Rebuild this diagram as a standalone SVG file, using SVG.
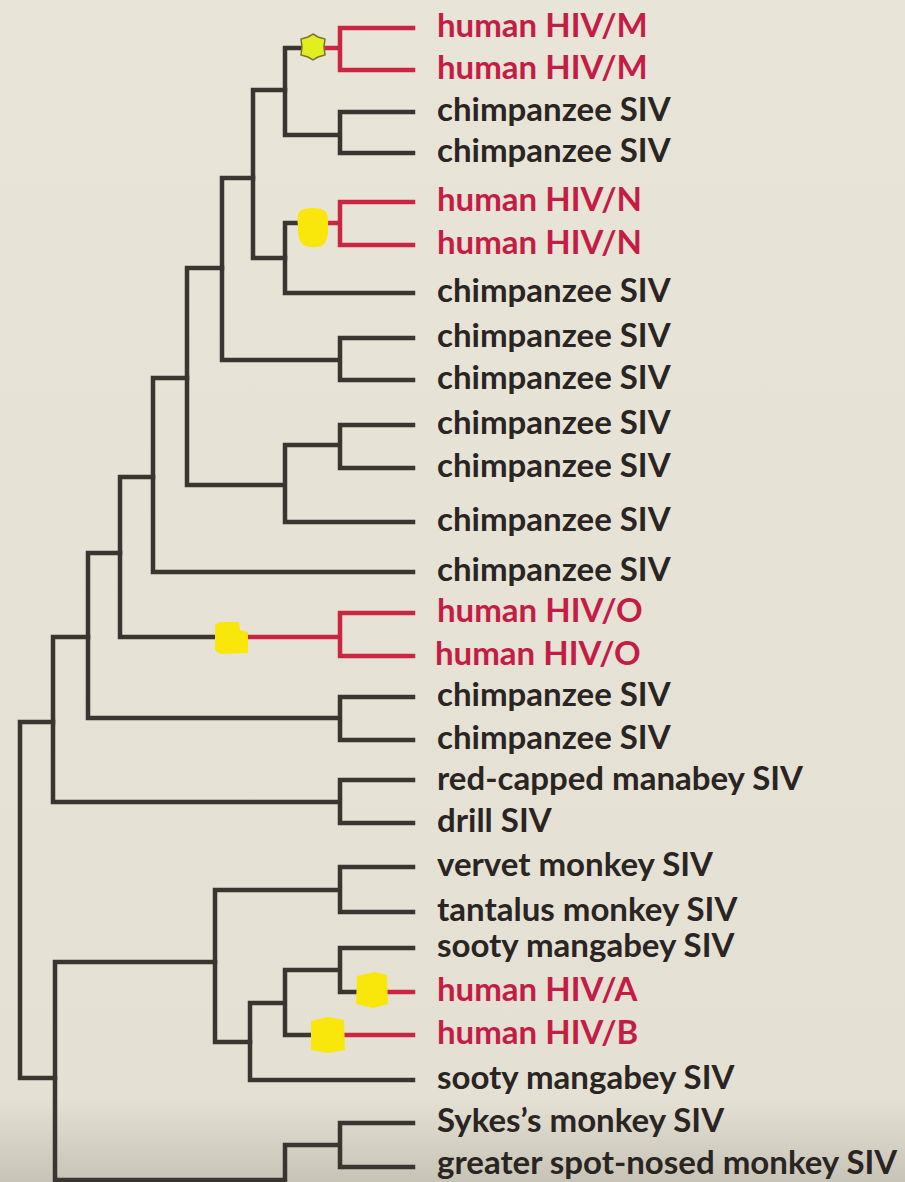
<svg xmlns="http://www.w3.org/2000/svg" width="905" height="1182" viewBox="0 0 905 1182">
<defs>
<linearGradient id="bg" x1="0" y1="0" x2="0" y2="1">
<stop offset="0" stop-color="#e9e4d8"/>
<stop offset="0.93" stop-color="#e5e0d4"/>
<stop offset="1" stop-color="#c8c3b7"/>
</linearGradient>
<style>
.t{font-family:Lato,"Open Sans","Liberation Sans",sans-serif;font-weight:700;font-size:33px;fill:#2a2522}
.r{fill:#c41d45}
.k{fill:none;stroke:#3a3531;stroke-width:4.5;stroke-linejoin:miter;stroke-linecap:square}
.red{fill:none;stroke:#c92644;stroke-width:4.5;stroke-linejoin:miter;stroke-linecap:square}
.mk{fill:#f9e60a;stroke:none}
</style>
</defs>
<rect width="905" height="1182" fill="url(#bg)"/>
<g id="connectors">
<path class="k" d="M300,48 H285 V135 H340 M413,112 H340 V153 H413"/>
<path class="k" d="M285,90 H253 V258 H285"/>
<path class="k" d="M297,223 H285 V293 H413"/>
<path class="k" d="M253,178 H222 V360 H340 M413,338 H340 V380 H413"/>
<path class="k" d="M222,268 H187 V485 H285 M285,445 V522 H413 M285,445 H340 M413,425 H340 V468 H413"/>
<path class="k" d="M187,378 H153 V572 H413"/>
<path class="k" d="M153,477 H120 V637 H218"/>
<path class="k" d="M120,553 H88 V718 H340 M413,697 H340 V740 H413"/>
<path class="k" d="M88,637 H53 V802 H340 M413,780 H340 V823 H413"/>
<path class="k" d="M53,722 H20 V1078 H55"/>
<path class="k" d="M215,962 H55 V1180 H285 V1145 H340 M413,1123 H340 V1167 H413"/>
<path class="k" d="M413,867 H340 V912 H413 M340,890 H215 V1042 H250"/>
<path class="k" d="M250,1003 V1080 H413 M250,1003 H285 M340,970 H285 V1035 H312 M413,948 H340 V992 H358"/>
<path class="red" d="M413,28 H340 V70 H413 M326,48 H340"/>
<path class="red" d="M413,202 H340 V245 H413 M326,223 H340"/>
<path class="red" d="M413,613 H340 V656 H413 M246,637 H340"/>
<path class="red" d="M386,992 H413"/>
<path class="red" d="M343,1035 H413"/>
</g>
<g id="markers">
<polygon id="marker-M" points="313,34 318,37 325,39 324,47 325,55 318,57 313,60 308,57 301,55 302,47 301,39 308,37" fill="#e2ee1e" stroke="#77752c" stroke-width="1.5"/>
<path id="marker-N" class="mk" d="M301,210 Q312,206 324,210 Q329,214 328,226 Q329,240 322,246 Q312,249 303,245 Q297,238 298,226 Q296,214 301,210 Z"/>
<polygon id="marker-O" class="mk" points="215,625 220,622 239,622 240,630 248,632 248,653 220,654 215,650"/>
<polygon id="marker-A" class="mk" points="357,976 375,972 387,975 388,1004 373,1008 356,1004"/>
<polygon id="marker-B" class="mk" points="311,1021 328,1017 344,1020 345,1050 328,1053 311,1050"/>
</g>
<g id="leaf-01"><text class="t r" x="437" y="37">human HIV/M</text></g>
<g id="leaf-02"><text class="t r" x="437" y="79">human HIV/M</text></g>
<g id="leaf-03"><text class="t" x="437" y="121">chimpanzee SIV</text></g>
<g id="leaf-04"><text class="t" x="437" y="162">chimpanzee SIV</text></g>
<g id="leaf-05"><text class="t r" x="437" y="211">human HIV/N</text></g>
<g id="leaf-06"><text class="t r" x="437" y="254">human HIV/N</text></g>
<g id="leaf-07"><text class="t" x="437" y="302">chimpanzee SIV</text></g>
<g id="leaf-08"><text class="t" x="437" y="347">chimpanzee SIV</text></g>
<g id="leaf-09"><text class="t" x="437" y="389">chimpanzee SIV</text></g>
<g id="leaf-10"><text class="t" x="437" y="434">chimpanzee SIV</text></g>
<g id="leaf-11"><text class="t" x="437" y="477">chimpanzee SIV</text></g>
<g id="leaf-12"><text class="t" x="437" y="531">chimpanzee SIV</text></g>
<g id="leaf-13"><text class="t" x="437" y="581">chimpanzee SIV</text></g>
<g id="leaf-14"><text class="t r" x="437" y="622">human HIV/O</text></g>
<g id="leaf-15"><text class="t r" x="435" y="665">human HIV/O</text></g>
<g id="leaf-16"><text class="t" x="437" y="706">chimpanzee SIV</text></g>
<g id="leaf-17"><text class="t" x="437" y="749">chimpanzee SIV</text></g>
<g id="leaf-18"><text class="t" x="437" y="790">red-capped manabey SIV</text></g>
<g id="leaf-19"><text class="t" x="437" y="832">drill SIV</text></g>
<g id="leaf-20"><text class="t" x="437" y="876">vervet monkey SIV</text></g>
<g id="leaf-21"><text class="t" x="437" y="921">tantalus monkey SIV</text></g>
<g id="leaf-22"><text class="t" x="437" y="957">sooty mangabey SIV</text></g>
<g id="leaf-23"><text class="t r" x="437" y="1001">human HIV/A</text></g>
<g id="leaf-24"><text class="t r" x="437" y="1044">human HIV/B</text></g>
<g id="leaf-25"><text class="t" x="437" y="1089">sooty mangabey SIV</text></g>
<g id="leaf-26"><text class="t" x="437" y="1132">Sykes’s monkey SIV</text></g>
<g id="leaf-27"><text class="t" x="437" y="1174">greater spot-nosed monkey SIV</text></g>
</svg>
